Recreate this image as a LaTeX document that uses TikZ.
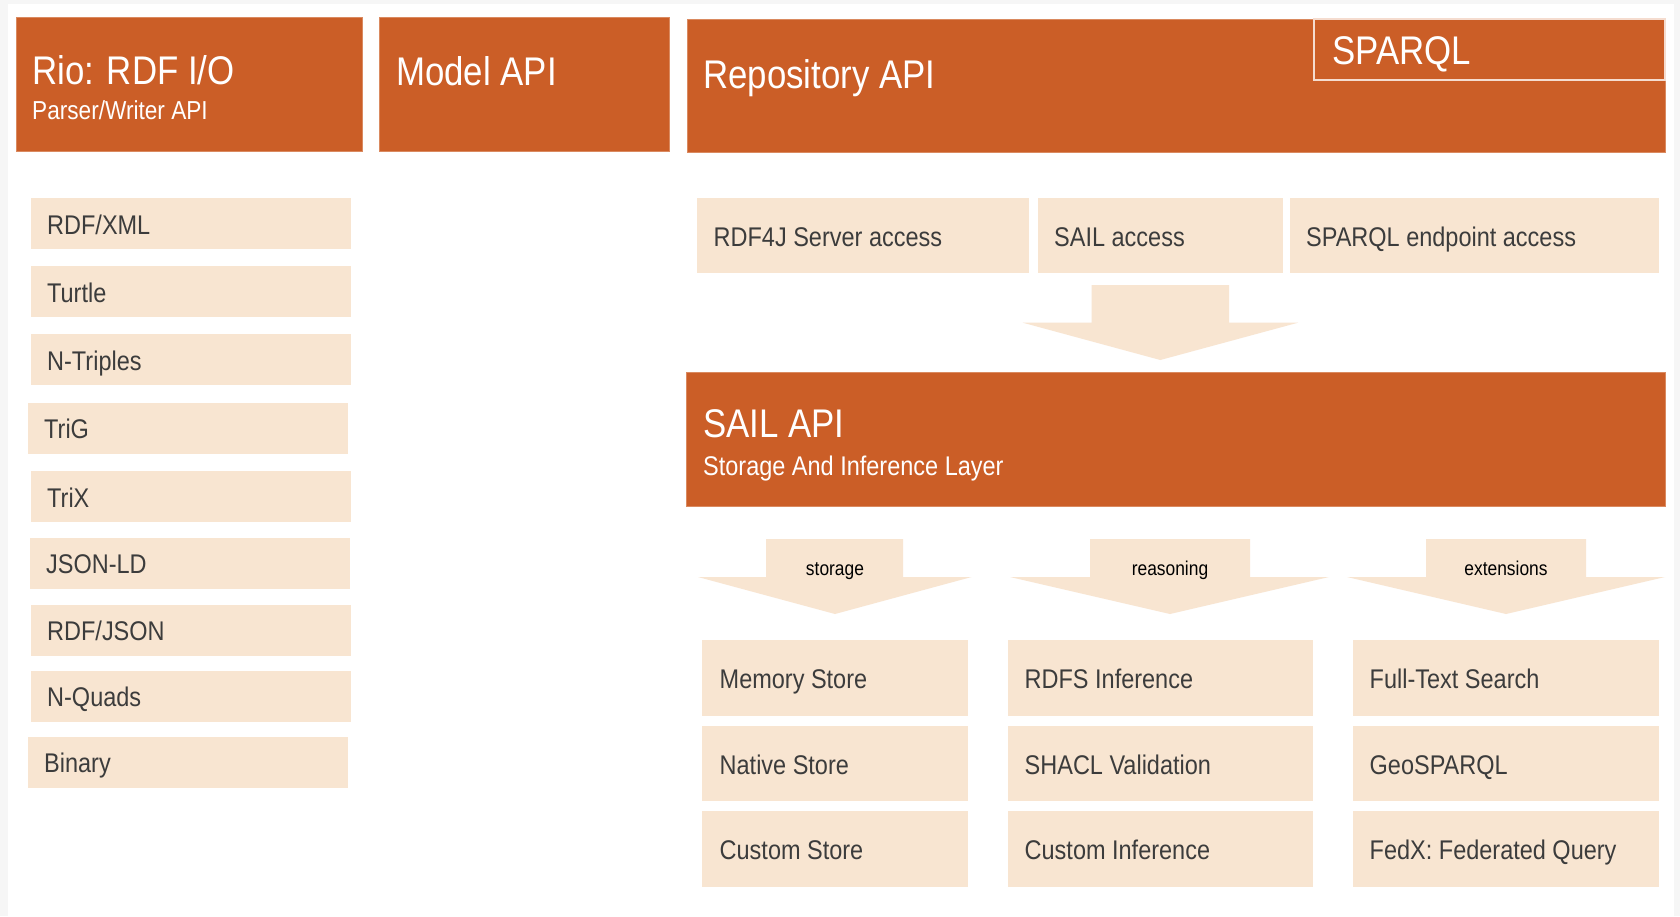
\documentclass[tikz,border=0pt]{standalone}
\usepackage{fontspec}
\setmainfont{Liberation Sans}[FakeStretch=0.87]
\definecolor{rdfor}{HTML}{CB5E27}
\definecolor{rdfedge}{HTML}{DA8A60}
\definecolor{rdflt}{HTML}{F8E5D1}
\definecolor{rdftx}{HTML}{3C3C3C}
\definecolor{rdfbg}{HTML}{F6F6F6}
\definecolor{sqedge}{HTML}{F5DCCF}
\newcommand{\rdfbox}[6]{\node[#2, minimum width=#5pt, minimum height=#6pt] (#1) at (#3,#4) {};}
\tikzset{
  obox/.style={fill=rdfor, draw=rdfedge, line width=0.8pt, inner sep=0pt, outer sep=0pt, anchor=north west, rectangle},
  lbox/.style={fill=rdflt, draw=none, inner sep=0pt, outer sep=0pt, anchor=north west, rectangle},
  sqbox/.style={fill=rdfor, draw=sqedge, line width=1.6pt, inner sep=0pt, outer sep=0pt, anchor=north west, rectangle},
  ttl/.style={text=white, font=\fontsize{40}{48}\selectfont, anchor=base west, inner sep=0pt},
  sub/.style={text=white, font=\fontsize{26}{31}\selectfont, anchor=base west, inner sep=0pt},
  itm/.style={text=rdftx, font=\fontsize{27}{32}\selectfont, anchor=base west, inner sep=0pt},
  lbl/.style={text=black, font=\fontsize{20}{24}\selectfont, anchor=base, inner sep=0pt},
  blk/.style={fill=rdflt, draw=none},
}
\begin{document}
\begin{tikzpicture}[x=1pt, y=-1pt]
\useasboundingbox (0,0) rectangle (1680,916);
\fill[rdfbg] (0,0) rectangle (1680,916);
\fill[white] (8,4) rectangle (1674,916);

% top orange boxes
\rdfbox{rio}{obox}{16}{17}{346}{134}
\node[ttl] (riot) at (32,84) {Rio: RDF I/O};
\node[sub] (rios) at (32,119) {Parser/Writer API};

\rdfbox{model}{obox}{379}{17}{290}{134}
\node[ttl] (modelt) at (396,85) {Model API};

\rdfbox{repo}{obox}{687}{19}{978}{133}
\node[ttl] (repot) at (703,88) {Repository API};
\rdfbox{sparql}{sqbox}{1314}{19}{351}{61}
\node[ttl] (sparqlt) at (1332,64) {SPARQL};

% left list
\rdfbox{l1}{lbox}{30.5}{198}{320}{51}
\node[itm] (l1t) at (47,234) {RDF/XML};
\rdfbox{l2}{lbox}{30.5}{266}{320}{51}
\node[itm] (l2t) at (47,302) {Turtle};
\rdfbox{l3}{lbox}{30.5}{334}{320}{51}
\node[itm] (l3t) at (47,370) {N-Triples};
\rdfbox{l4}{lbox}{28}{402.6}{320}{51}
\node[itm] (l4t) at (44,438.6) {TriG};
\rdfbox{l5}{lbox}{30.5}{471.3}{320}{51}
\node[itm] (l5t) at (47,507.3) {TriX};
\rdfbox{l6}{lbox}{30}{537.9}{320}{51}
\node[itm] (l6t) at (46,573.9) {JSON-LD};
\rdfbox{l7}{lbox}{30.5}{604.6}{320}{51}
\node[itm] (l7t) at (47,640.6) {RDF/JSON};
\rdfbox{l8}{lbox}{30.5}{670.9}{320}{51}
\node[itm] (l8t) at (47,706.9) {N-Quads};
\rdfbox{l9}{lbox}{28}{736.9}{320}{51}
\node[itm] (l9t) at (44,772.9) {Binary};

% access row
\rdfbox{a1}{lbox}{697}{198}{332}{75}
\node[itm] (a1t) at (713.5,246) {RDF4J Server access};
\rdfbox{a2}{lbox}{1038}{198}{245}{75}
\node[itm] (a2t) at (1054,246) {SAIL access};
\rdfbox{a3}{lbox}{1290}{198}{369}{75}
\node[itm] (a3t) at (1306,246) {SPARQL endpoint access};

% big arrow
\fill[blk] (1091.6,285) -- (1229,285) -- (1229,322.7) -- (1298,322.7) -- (1160.3,360) -- (1022.8,322.7) -- (1091.6,322.7) -- cycle;

% SAIL API
\rdfbox{sail}{obox}{686}{372}{979}{134}
\node[ttl] (sailt) at (703,437) {SAIL API};
\node[sub, font=\fontsize{27}{32}\selectfont] (sails) at (703,475) {Storage And Inference Layer};

% small arrows
\fill[blk] (766,539) -- (903,539) -- (903,577) -- (971.5,577) -- (835,614) -- (698,577) -- (766,577) -- cycle;
\node[lbl] (lst) at (835,575) {storage};
\fill[blk] (1090,539) -- (1250,539) -- (1250,577) -- (1329,577) -- (1170,614) -- (1010,577) -- (1090,577) -- cycle;
\node[lbl] (lrs) at (1170,575) {reasoning};
\fill[blk] (1426,539) -- (1586,539) -- (1586,577) -- (1665,577) -- (1506,614) -- (1347,577) -- (1426,577) -- cycle;
\node[lbl] (lex) at (1506,575) {extensions};

% bottom grid
\rdfbox{b11}{lbox}{702}{640}{266}{76}
\node[itm] (b11t) at (719.5,688) {Memory Store};
\rdfbox{b12}{lbox}{702}{726}{266}{75}
\node[itm] (b12t) at (719.5,774) {Native Store};
\rdfbox{b13}{lbox}{702}{811}{266}{76}
\node[itm] (b13t) at (719.5,859) {Custom Store};

\rdfbox{b21}{lbox}{1008}{640}{305}{76}
\node[itm] (b21t) at (1024.5,688) {RDFS Inference};
\rdfbox{b22}{lbox}{1008}{726}{305}{75}
\node[itm] (b22t) at (1024.5,774) {SHACL Validation};
\rdfbox{b23}{lbox}{1008}{811}{305}{76}
\node[itm] (b23t) at (1024.5,859) {Custom Inference};

\rdfbox{b31}{lbox}{1353}{640}{306}{76}
\node[itm] (b31t) at (1369.5,688) {Full-Text Search};
\rdfbox{b32}{lbox}{1353}{726}{306}{75}
\node[itm] (b32t) at (1369.5,774) {GeoSPARQL};
\rdfbox{b33}{lbox}{1353}{811}{306}{76}
\node[itm] (b33t) at (1369.5,859) {FedX: Federated Query};
\end{tikzpicture}
\end{document}
